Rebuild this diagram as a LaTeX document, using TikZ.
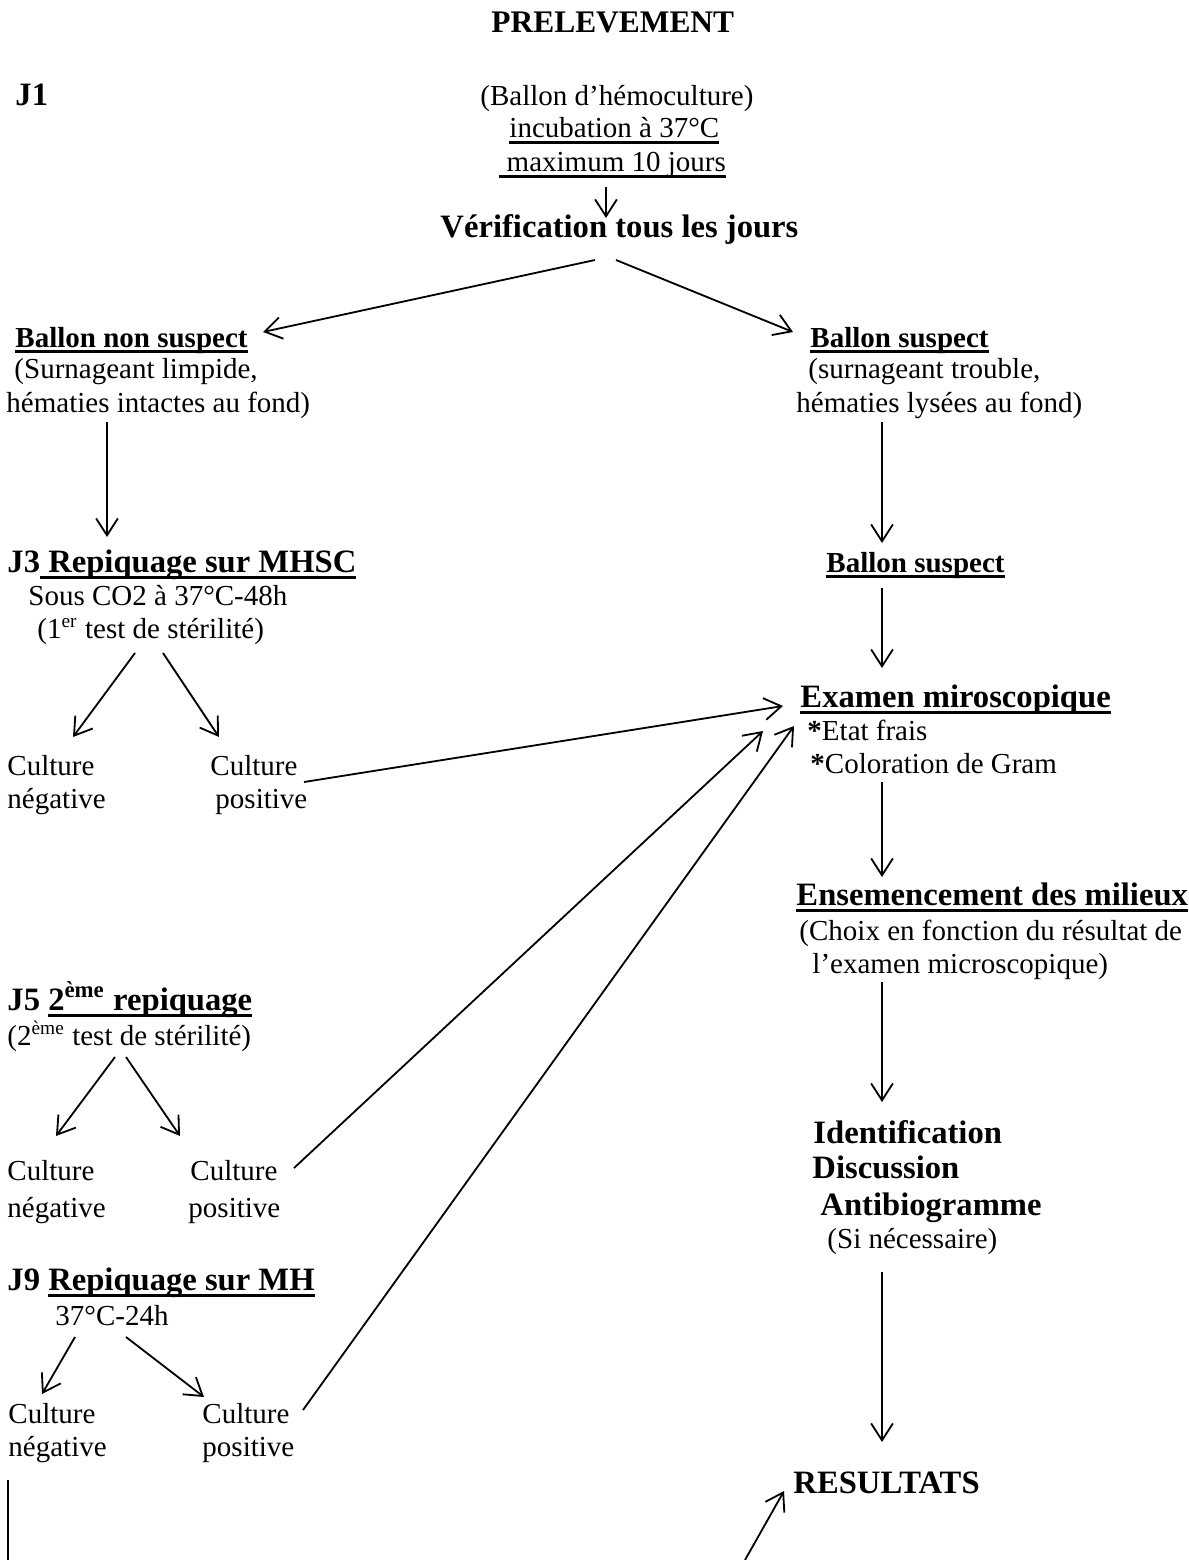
\documentclass[tikz,border=0pt]{standalone}
\usepackage{fontspec}
\setmainfont{Liberation Serif}
\usetikzlibrary{arrows.meta}
\newsavebox\soulbox
\newcommand\souligne[1]{\sbox\soulbox{#1}\rlap{\rule[-0.2em]{\wd\soulbox}{0.085em}}\usebox\soulbox}
\tikzset{
  txt/.style={anchor=base west, inner sep=0pt, font=\fontsize{12}{14}\selectfont},
  tete/.style={txt, font=\fontsize{13.5}{16}\selectfont\bfseries},
  titre/.style={txt, font=\fontsize{12}{14}\selectfont\bfseries},
  fl/.style={-{Straight Barb[length=7pt,width=9pt]}, line width=0.75pt}
}
\begin{document}
\begin{tikzpicture}[x=0.4138pt, y=-0.4138pt]
\useasboundingbox (0,0) rectangle (1189,1560);
% en-tete
\node[titre, font=\fontsize{13}{15}\selectfont\bfseries] (prel) at (491,33) {PRELEVEMENT};
\node[tete] (j1) at (15,105) {J1};
\node[txt] (hemo) at (480,105) {(Ballon d’hémoculture)};
\node[txt] (incub) at (509,138) {\souligne{incubation à 37°C}};
\node[txt] (maxi) at (499,172) {\souligne{\ maximum 10 jours}};
\node[tete] (verif) at (440,238) {Vérification tous les jours};
% ballons
\node[titre] (nonsusp) at (15,347) {\souligne{Ballon non suspect}};
\node[txt] (nonsusp2) at (14,378) {(Surnageant limpide,};
\node[txt] (nonsusp3) at (6,412) {hématies intactes au fond)};
\node[titre] (susp) at (810,347) {\souligne{Ballon suspect}};
\node[txt] (susp2) at (808,378) {(surnageant trouble,};
\node[txt] (susp3) at (796,412) {hématies lysées au fond)};
% J3
\node[tete] (j3) at (7,572) {J3\souligne{ Repiquage sur MHSC}};
\node[txt] (j3b) at (28,605) {Sous CO2 à 37°C-48h};
\node[txt] (j3c) at (37,638) {(1\textsuperscript{er} test de stérilité)};
\node[titre] (susp4) at (826,572) {\souligne{Ballon suspect}};
\node[txt] (neg1) at (7,775) {Culture};
\node[txt] (neg1b) at (7,808) {négative};
\node[txt] (pos1) at (210,775) {Culture};
\node[txt] (pos1b) at (215,808) {positive};
% examen
\node[tete] (exam) at (800,707) {\souligne{Examen miroscopique}};
\node[txt] (exam2) at (807,740) {\textbf{*}Etat frais};
\node[txt] (exam3) at (810,773) {\textbf{*}Coloration de Gram};
\node[tete] (ens) at (796,905) {\souligne{Ensemencement des milieux}};
\node[txt] (ens2) at (799,940) {(Choix en fonction du résultat de};
\node[txt] (ens3) at (812,973) {l’examen microscopique)};
\node[tete] (ident) at (813,1143) {Identification};
\node[tete] (disc) at (812,1178) {Discussion};
\node[tete] (atb) at (820,1215) {Antibiogramme};
\node[txt] (sinec) at (827,1248) {(Si nécessaire)};
\node[tete] (res) at (793,1493) {RESULTATS};
% J5
\node[tete] (j5) at (7,1010) {J5 \souligne{2\textsuperscript{ème} repiquage}};
\node[txt] (j5b) at (7,1045) {(2\textsuperscript{ème} test de stérilité)};
\node[txt] (neg2) at (7,1180) {Culture};
\node[txt] (neg2b) at (7,1217) {négative};
\node[txt] (pos2) at (190,1180) {Culture};
\node[txt] (pos2b) at (188,1217) {positive};
% J9
\node[tete] (j9) at (7,1290) {J9 \souligne{Repiquage sur MH}};
\node[txt] (j9b) at (55,1325) {37°C-24h};
\node[txt] (neg3) at (8,1423) {Culture};
\node[txt] (neg3b) at (8,1456) {négative};
\node[txt] (pos3) at (202,1423) {Culture};
\node[txt] (pos3b) at (202,1456) {positive};
\coordinate (bas) at (745,1560);
\coordinate (trait1) at (8,1480);
\coordinate (trait2) at (8,1560);

\draw[fl] ([shift={(107,15)}]maxi.base west) -- ([shift={(166,-20)}]verif.base west);
\draw[fl] ([shift={(155,22)}]verif.base west) -- ([shift={(248,-15)}]nonsusp.base west);
\draw[fl] ([shift={(176,22)}]verif.base west) -- ([shift={(-17,-15)}]susp.base west);
\draw[fl] ([shift={(101,10)}]nonsusp3.base west) -- ([shift={(100,-35)}]j3.base west);
\draw[fl] ([shift={(86,10)}]susp3.base west) -- ([shift={(56,-29)}]susp4.base west);
\draw[fl] ([shift={(98,15)}]j3c.base west) -- ([shift={(66,-38)}]neg1.base west);
\draw[fl] ([shift={(126,15)}]j3c.base west) -- ([shift={(9,-38)}]pos1.base west);
\draw[fl] ([shift={(56,16)}]susp4.base west) -- ([shift={(82,-39)}]exam.base west);
\draw[fl] ([shift={(89,-26)}]pos1b.base west) -- ([shift={(-17,-1)}]exam.base west);
\draw[fl] ([shift={(72,9)}]exam3.base west) -- ([shift={(86,-28)}]ens.base west);
\draw[fl] ([shift={(108,12)}]j5b.base west) -- ([shift={(49,-44)}]neg2.base west);
\draw[fl] ([shift={(119,12)}]j5b.base west) -- ([shift={(-10,-44)}]pos2.base west);
\draw[fl] ([shift={(104,-12)}]pos2.base west) -- ([shift={(-37,24)}]exam.base west);
\draw[fl] ([shift={(101,-13)}]pos3.base west) -- ([shift={(-6,19)}]exam.base west);
\draw[fl] ([shift={(70,9)}]ens3.base west) -- ([shift={(69,-41)}]ident.base west);
\draw[fl] ([shift={(20,12)}]j9b.base west) -- ([shift={(34,-29)}]neg3.base west);
\draw[fl] ([shift={(71,12)}]j9b.base west) -- ([shift={(2,-26)}]pos3.base west);
\draw[fl] ([shift={(55,24)}]sinec.base west) -- ([shift={(89,-51)}]res.base west);
\draw[fl] (bas) -- ([shift={(-9,-2)}]res.base west);
\draw[line width=0.75pt] (trait1) -- (trait2);
\end{tikzpicture}
\end{document}
